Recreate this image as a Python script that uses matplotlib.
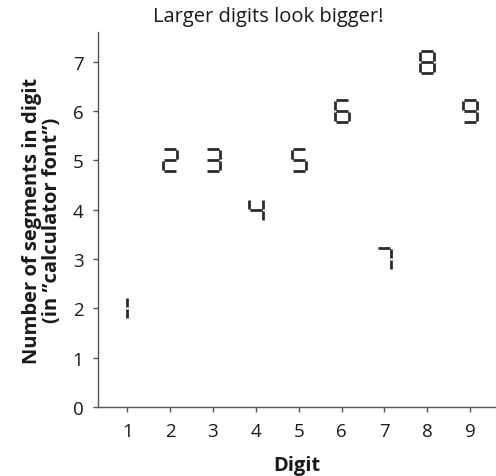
import matplotlib
matplotlib.use("Agg")
import matplotlib.pyplot as plt
from matplotlib.path import Path

plt.rcParams['font.family'] = ['Open Sans', 'DejaVu Sans']

digits = [1, 2, 3, 4, 5, 6, 7, 8, 9]
segment_counts = [2, 5, 5, 4, 5, 6, 3, 7, 6]
lit_segments = {
    1: "bc", 2: "abged", 3: "abgcd", 4: "fgbc", 5: "afgcd",
    6: "afgedc", 7: "abc", 8: "abcdefg", 9: "abcdfg",
}

# seven-segment glyph geometry (marker units, height spans -0.5..0.5)
H, W, G = 0.5, 0.31, 0.055
SEGS = {
    "a": [(-W + G, H), (W - G, H)],
    "b": [(W, H - G), (W, G)],
    "c": [(W, -G), (W, -H + G)],
    "d": [(-W + G, -H), (W - G, -H)],
    "e": [(-W, -G), (-W, -H + G)],
    "f": [(-W, H - G), (-W, G)],
    "g": [(-W + G, 0), (W - G, 0)],
}


def glyph(d):
    shift = -W if d == 1 else 0.0
    verts = [(0, H), (0, -H)]
    codes = [Path.MOVETO, Path.MOVETO]
    for s in lit_segments[d]:
        (x0, y0), (x1, y1) = SEGS[s]
        verts += [(x0 + shift, y0), (x1 + shift, y1)]
        codes += [Path.MOVETO, Path.LINETO]
    return Path(verts, codes)


fig = plt.figure(figsize=(4.96, 4.77), dpi=100)
ax = fig.add_axes([0.1976, 0.1447, 0.8024, 0.7861])

ink = "#2b2b2b"
for d, n in zip(digits, segment_counts):
    ax.plot([d], [n], linestyle="none", marker=glyph(d), markersize=16.5,
            markerfacecolor="none", markeredgecolor=ink, markeredgewidth=2.0)

ax.set_xlim(0.32, 9.6)
ax.set_ylim(0, 7.6)
ax.set_xticks(digits)
ax.set_yticks(range(0, 8))

for side in ("top", "right"):
    ax.spines[side].set_visible(False)
for side in ("left", "bottom"):
    ax.spines[side].set_color("#555555")
    ax.spines[side].set_linewidth(1.0)
ax.tick_params(axis="both", colors="#555555", labelcolor="#1a1a1a",
               labelsize=13.5, length=3.5, width=1.0)
ax.tick_params(axis="x", pad=7)
ax.tick_params(axis="y", pad=7)

ax.set_xlabel("Digit", fontsize=14.5, fontweight="bold", color="#1a1a1a", labelpad=11)
ax.set_ylabel("Number of segments in digit\n(in \u201dcalculator font\u201d)",
              fontsize=14.5, fontweight="bold", color="#1a1a1a", labelpad=8,
              linespacing=0.95)
fig.text(268 / 496, 1 - 17 / 477, "Larger digits look bigger!", ha="center",
         va="center", fontsize=14.5, color="#1a1a1a")

fig.savefig("out.png", dpi=100)
